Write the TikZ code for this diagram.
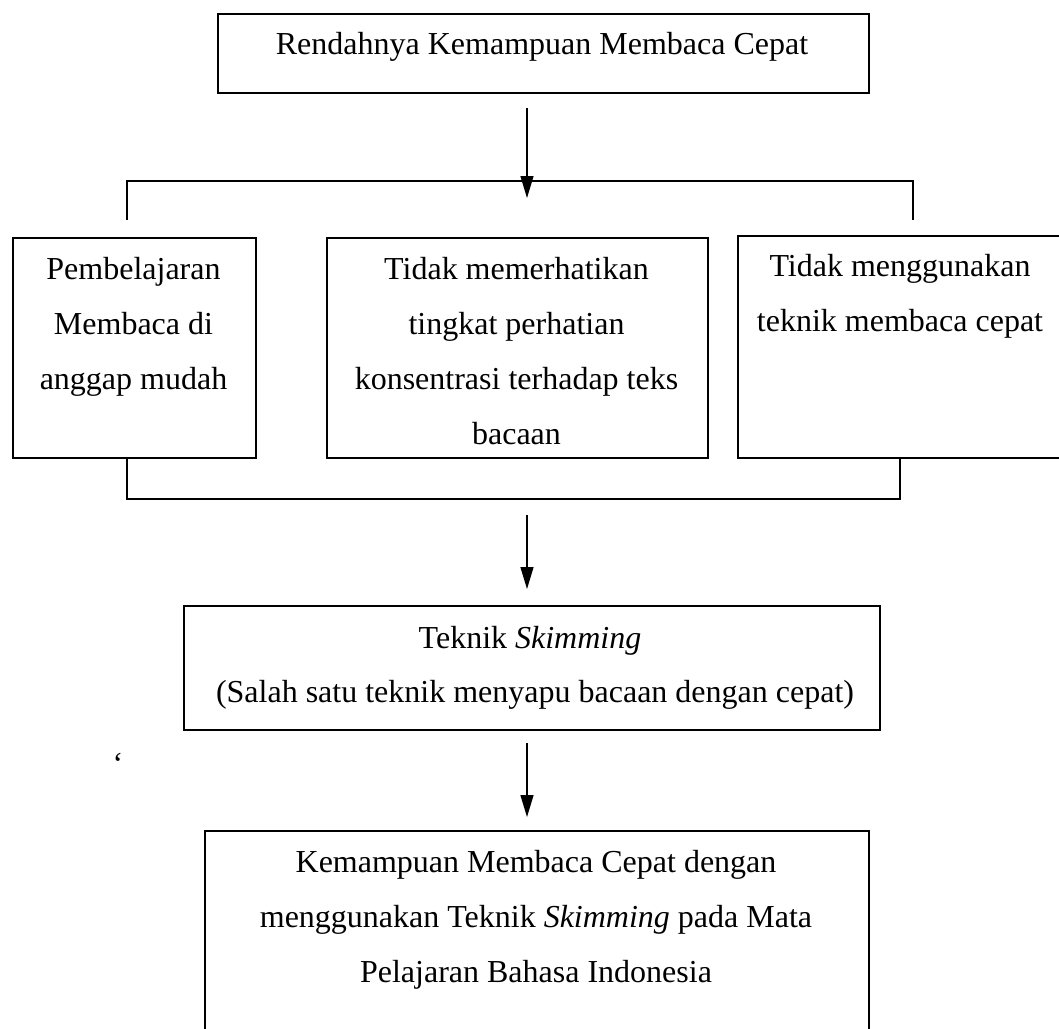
\documentclass[tikz,border=0pt]{standalone}
\usepackage{fontspec}
\setmainfont{Liberation Serif}
\usetikzlibrary{arrows.meta}
\begin{document}
\begin{tikzpicture}[x=1pt,y=-1pt,
  box/.style={draw, line width=1.6pt, inner sep=0pt, anchor=north west},
  lbl/.style={font=\fontsize{32}{55}\selectfont, anchor=base, inner sep=0pt},
  conn/.style={line width=1.4pt},
  arr/.style={conn, -{Triangle[width=13pt,length=22pt]}}]
\useasboundingbox (0,0) rectangle (1059,1028);
\clip (0,0) rectangle (1059,1028);

% boxes
\node[box, minimum width=651pt, minimum height=79pt] (top) at (217,13) {};
\node[box, minimum width=243pt, minimum height=220pt] (b1) at (12,237) {};
\node[box, minimum width=381pt, minimum height=220pt] (b2) at (326,237) {};
\node[box, minimum width=330pt, minimum height=222pt] (b3) at (737,235) {};
\node[box, minimum width=696pt, minimum height=124pt] (skim) at (183,605) {};
\node[box, minimum width=664pt, minimum height=230pt] (fin) at (204,830) {};

% texts
\node[lbl] (t0) at (542,54) {Rendahnya Kemampuan Membaca Cepat};

\node[lbl] (t1a) at (133.5,279) {Pembelajaran};
\node[lbl] (t1b) at (133.5,334) {Membaca di};
\node[lbl] (t1c) at (133.5,389) {anggap mudah};

\node[lbl] (t2a) at (516.5,279) {Tidak memerhatikan};
\node[lbl] (t2b) at (516.5,334) {tingkat perhatian};
\node[lbl] (t2c) at (516.5,389) {konsentrasi terhadap teks};
\node[lbl] (t2d) at (516.5,444) {bacaan};

\node[lbl] (t3a) at (900,276) {Tidak menggunakan};
\node[lbl] (t3b) at (900,331) {teknik membaca cepat};

\node[lbl] (t4a) at (530,648) {Teknik \textit{Skimming}};
\node[lbl] (t4b) at (535,702) {(Salah satu teknik menyapu bacaan dengan cepat)};

\node[lbl] (q) at (118,774) {‘};

\node[lbl] (t5a) at (536,872) {Kemampuan Membaca Cepat dengan};
\node[lbl] (t5b) at (536,927) {menggunakan Teknik \textit{Skimming} pada Mata};
\node[lbl] (t5c) at (536,982) {Pelajaran Bahasa Indonesia};

% connector coordinates
\coordinate (a1s) at (527,108);
\coordinate (a1e) at (527,198);
\coordinate (bl) at (127,220);
\coordinate (br) at (913,220);
\coordinate (bh) at (127,181);
\coordinate (j1) at (127,499);
\coordinate (j2) at (900,499);
\coordinate (a2s) at (527,515);
\coordinate (a2e) at (527,589);
\coordinate (a3s) at (527,743);
\coordinate (a3e) at (527,817);

% connectors
\draw[arr] (a1s) -- (a1e);
\draw[conn] (bl) -- (bh) -| (br);
\draw[conn] (b1.south -| j1) -- (j1) -- (j2) -- (b3.south -| j2);
\draw[arr] (a2s) -- (a2e);
\draw[arr] (a3s) -- (a3e);
\end{tikzpicture}
\end{document}
